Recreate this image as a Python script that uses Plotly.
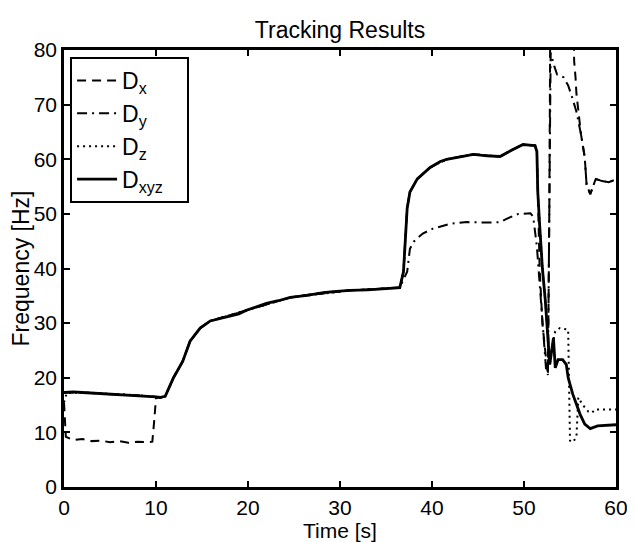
import plotly.graph_objects as go

# values (time in s, frequency in Hz)
t_xyz = [0, 1, 2, 3, 4, 5, 6, 7, 8, 9, 10, 10.5, 11, 11.9, 12.9, 13.7, 14.8, 15.9,
         17, 18, 19, 19.9, 21, 22, 23.3, 24.6, 26.4, 28.2, 29.6, 31.1, 33, 34.7,
         35.6, 36.5, 36.9, 37.3, 37.6, 38.4, 39.8, 40.9, 41.6, 43, 44.5, 46, 47.4,
         48.8, 49.9, 50.6, 51.2, 51.4, 51.5, 51.7, 52, 52.3, 52.6, 52.8, 53.2, 53.4,
         53.7, 54.2, 54.6, 54.8, 55.3, 56.1, 56.6, 57.2, 58, 59, 60]
d_xyz = [17.3, 17.4, 17.3, 17.2, 17.1, 17.0, 16.9, 16.9, 16.8, 16.6, 16.5, 16.4, 16.6,
         20.0, 23.0, 26.7, 29.1, 30.4, 30.9, 31.3, 31.7, 32.4, 33.0, 33.6, 34.1, 34.7,
         35.1, 35.6, 35.8, 36.0, 36.1, 36.3, 36.3, 36.5, 39.4, 51.0, 54.0, 56.4, 58.5,
         59.6, 60.0, 60.5, 60.9, 60.6, 60.5, 61.8, 62.7, 62.6, 62.5, 61.4, 54.0, 48.0,
         40.0, 34.5, 26.7, 22.4, 27.3, 21.8, 23.3, 23.3, 22.4, 20.0, 17.0, 13.3, 11.5,
         10.7, 11.2, 11.3, 11.4]

t_x = [0, 0.2, 1, 2, 3, 4, 5, 6, 7, 8, 9, 9.6, 9.8, 10, 10.5, 11, 11.9, 12.9, 13.7,
       14.8, 15.9, 19.9, 24.6, 31.1, 36.5, 36.9, 37.3, 37.6, 38.4, 39.8, 41.6, 44.5,
       47.4, 48.8, 49.9, 51.2, 51.4, 51.7, 52, 52.3, 52.6, 52.75, 52.9, 55.3, 55.45,
       55.6, 55.7, 56.2, 56.6, 56.8, 57.2, 57.5, 57.8, 58.5, 59.2, 60]
d_x = [15.5, 9.2, 8.6, 8.8, 8.4, 8.5, 8.2, 8.4, 8.1, 8.3, 8.2, 8.3, 12.0, 16.3, 16.4,
       16.6, 20.0, 23.0, 26.7, 29.1, 30.4, 32.4, 34.7, 36.0, 36.5, 39.4, 51.0, 54.0,
       56.4, 58.5, 60.0, 60.9, 60.5, 61.8, 62.7, 62.5, 61.4, 40.0, 30.0, 25.0, 20.5,
       50.0, 100, 100, 78.0, 75.0, 72.0, 64.5, 60.4, 55.4, 53.6, 55.0, 56.4, 56.0,
       55.8, 56.3]

t_y = [0, 2, 5, 8, 10.5, 11, 11.9, 12.9, 13.7, 14.8, 15.9, 19.9, 24.6, 28.2, 31.1,
       34.7, 36.5, 37.1, 37.3, 37.6, 38, 39, 40.1, 42, 43.8, 46.3, 47.4, 48.1, 49.4,
       50.7, 51.0, 51.4, 51.8, 52.1, 52.4, 52.6, 52.75, 52.9, 53.3, 53.6, 54.3, 54.8,
       55.2, 55.7, 56.2, 56.6, 56.8, 57.2, 57.5, 57.8, 58.5, 59.2, 60]
d_y = [17.3, 17.3, 17.0, 16.8, 16.4, 16.6, 20.0, 23.0, 26.7, 29.1, 30.4, 32.4, 34.7,
       35.6, 36.0, 36.3, 36.5, 38.7, 39.4, 43.6, 44.9, 46.4, 47.3, 48.2, 48.5, 48.4,
       48.5, 49.1, 50.0, 50.1, 49.5, 44.0, 35.0, 27.0, 21.5, 20.5, 50.0, 79.5, 77.0,
       75.5, 75.0, 73.5, 71.5, 68.7, 64.5, 60.4, 55.4, 53.6, 55.0, 56.4, 56.0, 55.8,
       56.3]

t_z = [0, 0.3, 2, 5, 8, 10.5, 11, 11.9, 12.9, 13.7, 14.8, 15.9, 19.9, 24.6, 31.1,
       36.5, 36.9, 37.3, 37.6, 38.4, 39.8, 41.6, 44.5, 47.4, 48.8, 49.9, 51.2, 51.4,
       51.5, 51.7, 52, 52.3, 52.6, 52.8, 53.2, 53.4, 53.9, 54.8, 55.0, 55.3, 55.7,
       55.9, 56.4, 57.0, 57.4, 57.7, 60]
d_z = [15.5, 17.2, 17.3, 17.0, 16.8, 16.4, 16.6, 20.0, 23.0, 26.7, 29.1, 30.4, 32.4,
       34.7, 36.0, 36.5, 39.4, 51.0, 54.0, 56.4, 58.5, 60.0, 60.9, 60.5, 61.8, 62.7,
       62.5, 61.4, 54.0, 48.0, 40.0, 34.5, 26.7, 22.4, 27.0, 28.5, 29.1, 28.8, 8.5,
       8.2, 9.1, 16.4, 15.0, 13.8, 13.6, 14.2, 14.2]

FONT = "Liberation Sans, Arial, Helvetica, sans-serif"

fig = go.Figure()
fig.add_trace(go.Scatter(x=t_x, y=d_x, mode="lines", name="D<sub>x</sub>", legendgroup="x",
                         line=dict(color="black", width=2, dash="9px,6px")))
fig.add_trace(go.Scatter(x=t_y, y=d_y, mode="lines", name="D<sub>y</sub>", legendgroup="y",
                         line=dict(color="black", width=2, dash="10px,5px,2px,5px")))
fig.add_trace(go.Scatter(x=t_z, y=d_z, mode="lines", name="D<sub>z</sub>", legendgroup="z",
                         line=dict(color="black", width=2, dash="2px,4px")))
fig.add_trace(go.Scatter(x=t_xyz, y=d_xyz, mode="lines", name="D<sub>xyz</sub>&nbsp;&nbsp;&nbsp;",
                         legendgroup="xyz", line=dict(color="black", width=2.8)))

axis_style = dict(showline=True, linecolor="black", linewidth=2.5, mirror="ticks",
                  ticks="inside", ticklen=6, tickwidth=2, tickcolor="black",
                  showgrid=False, zeroline=False, dtick=10,
                  tickfont=dict(size=21, color="black"))

# the page adds an 8px body margin, so the margins here are 8px smaller on top/left
fig.update_layout(
    width=635, height=542,
    margin=dict(l=56, r=27, t=42, b=63, autoexpand=False),
    paper_bgcolor="white", plot_bgcolor="white",
    font=dict(family=FONT, color="black", size=22),
    title=dict(text="Tracking Results", x=0.5, xref="paper", y=0.959, yanchor="middle",
               font=dict(size=23)),
    xaxis=dict(range=[0, 60], **axis_style),
    yaxis=dict(range=[0, 80], title=dict(text="Frequency [Hz]", standoff=2, font=dict(size=23)),
               **axis_style),
    legend=dict(x=0.011, y=0.984, xanchor="left", yanchor="top",
                bordercolor="black", borderwidth=2, bgcolor="white",
                font=dict(size=23), itemwidth=40, tracegroupgap=0),
    showlegend=True,
)

# x-axis title sits tight under the tick labels, as in the reference
fig.add_annotation(text="Time [s]", xref="paper", yref="paper", x=0.5, y=-0.1,
                   yanchor="middle", showarrow=False, font=dict(size=21))

fig.write_html("out.html")
